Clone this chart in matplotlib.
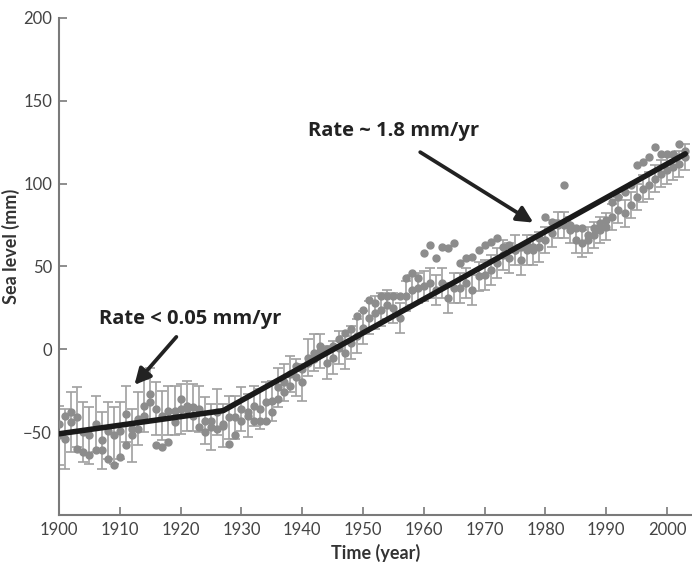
import numpy as np
import matplotlib
matplotlib.use("agg")
import matplotlib.pyplot as plt

# data
years = list(range(1900, 2004))

# series with error bars
gauge = [-52, -54, -44, -41, -50, -52, -45, -55, -49, -52,
         -49, -39, -52, -42, -34, -27, -36, -40, -37, -37,
         -36, -34, -35, -36, -43, -47, -38, -46, -41, -41,
         -36, -40, -34, -36, -32, -31, -23, -20, -15, -17,
         -20, -5, -2, -1, -8, -5, 1, -2, 4, 8,
         13, 19, 22, 24, 27, 25, 19, 32, 36, 37,
         38, 40, 36, 40, 31, 37, 37, 40, 36, 44,
         45, 48, 52, 57, 55, 60, 54, 60, 60, 62,
         66, 70, 75, 75, 72, 66, 64, 66, 69, 72,
         74, 80, 84, 82, 87, 92, 97, 99, 103, 106,
         108, 110, 112, 116]
gauge_err = [18, 18, 18, 18, 18, 17, 17, 17, 17, 17,
             17, 17, 16, 16, 16, 16, 16, 15, 15, 15,
             15, 15, 14, 14, 14, 14, 14, 13, 13, 13,
             13, 13, 12, 12, 12, 12, 12, 11, 11, 11,
             11, 11, 11, 10, 10, 10, 10, 10, 10, 10,
             10, 10, 10, 10, 9, 9, 9, 9, 9, 9,
             9, 9, 9, 9, 9, 9, 9, 9, 9, 9,
             9, 9, 9, 9, 9, 9, 9, 9, 9, 9,
             8, 8, 8, 8, 8, 8, 8, 8, 8, 8,
             8, 8, 8, 8, 8, 8, 8, 8, 8, 8,
             8, 8, 8, 8]

# series without error bars
other = [-45, -40, -38, -60, -62, -64, -61, -61, -66, -70,
         -65, -58, -48, -48, -40, -32, -58, -59, -56, -44,
         -30, -36, -40, -47, -50, -43, -48, -45, -57, -52,
         -43, -38, -43, -43, -43, -38, -30, -26, -22, -10,
         -12, -8, -6, 2, 0, 2, 6, 10, 12, 20,
         24, 30, 28, 32, 32, 32, 32, 43, 46, 43,
         58, 63, 55, 62, 61, 64, 52, 55, 56, 60,
         63, 65, 67, 62, 63, 60, 62, 63, 62, 67,
         80, 77, 76, 99, 75, 73, 73, 69, 73, 76,
         78, 89, 92, 95, 99, 111, 113, 116, 122, 118,
         118, 118, 124, 120]

# fitted trend (two segments)
trend_years = [1900, 1927, 2003]
trend_vals = [-51, -37, 118]

xticks = list(range(1900, 2001, 10))
yticks = [-50, 0, 50, 100, 150, 200]

plt.rcParams['font.family'] = ['Lato', 'DejaVu Sans']

fig = plt.figure(figsize=(6.92, 5.65), dpi=100)
ax = fig.add_axes([0.0853, 0.0885, 0.9147, 0.8797])

grey = "#8c8c8c"
ax.errorbar(years, gauge, yerr=gauge_err, fmt='none', ecolor="#a0a0a0",
            elinewidth=1.2, capsize=3.5, capthick=1.2, zorder=2)
ax.plot(years, gauge, 'o', color=grey, markersize=5, zorder=3)
ax.plot(years, other, 'o', color=grey, markersize=5, zorder=3)
ax.plot(trend_years, trend_vals, color="#1a1a1a", lw=4, zorder=4,
        solid_capstyle='round')

# annotations
arrow = dict(arrowstyle='-|>', color="#222222", lw=2.7,
             mutation_scale=24, shrinkA=0, shrinkB=0)
ax.annotate("", xy=(1912.4, -21.5), xytext=(1919.3, 7.5), arrowprops=arrow)
ax.text(1906.6, 18, "Rate < 0.05 mm/yr", fontsize=14.5, fontweight='bold',
        family=['Open Sans', 'DejaVu Sans'], color="#222222",
        ha='left', va='center')
ax.annotate("", xy=(1978.0, 76.5), xytext=(1959.4, 119), arrowprops=arrow)
ax.text(1940.9, 132, "Rate ~ 1.8 mm/yr", fontsize=14.5, fontweight='bold',
        family=['Open Sans', 'DejaVu Sans'], color="#222222",
        ha='left', va='center')

ax.set_xlim(1900, 2004.1)
ax.set_ylim(-100, 200)
ax.set_xticks(xticks)
ax.set_yticks(yticks)
for s in ["top", "right"]:
    ax.spines[s].set_visible(False)
for s in ["left", "bottom"]:
    ax.spines[s].set_color("#7a7a7a")
    ax.spines[s].set_linewidth(1.5)
ax.tick_params(direction='in', length=6, width=1.2, color="#7a7a7a",
               labelsize=12, labelcolor="#444444", pad=5)
ax.set_xlabel("Time (year)", fontsize=13, fontweight='bold', color="#333333",
              labelpad=4)
ax.set_ylabel("Sea level (mm)", fontsize=13, fontweight='bold', color="#333333")
ax.yaxis.set_label_coords(-0.062, 0.54)

fig.savefig("out.png", dpi=100)
